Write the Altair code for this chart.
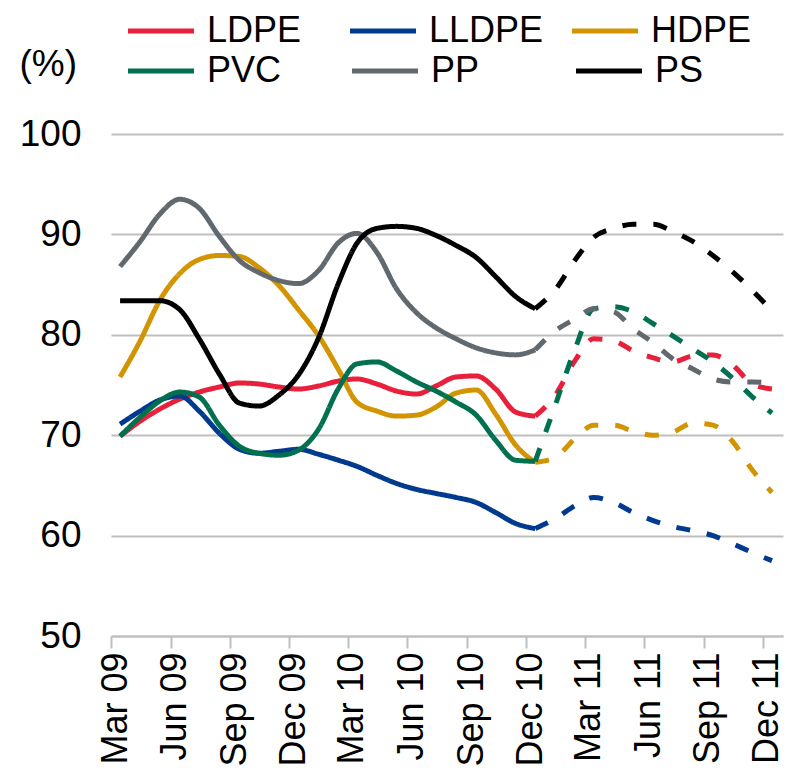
import altair as alt
import pandas as pd

# ---- data -------------------------------------------------------------
actual_dates = [
    "2009-03-15", "2009-04-15", "2009-05-15", "2009-06-15", "2009-07-15", "2009-08-15",
    "2009-09-15", "2009-10-15", "2009-11-15", "2009-12-15", "2010-01-15", "2010-02-15",
    "2010-03-15", "2010-04-15", "2010-05-15", "2010-06-15", "2010-07-15", "2010-08-15",
    "2010-09-15", "2010-10-15", "2010-11-15", "2010-12-15",
]
forecast_dates = [
    "2010-12-15", "2011-01-15", "2011-02-15", "2011-03-15", "2011-04-15", "2011-05-15",
    "2011-06-15", "2011-07-15", "2011-08-15", "2011-09-15", "2011-10-15", "2011-11-15",
    "2011-12-15",
]

ldpe_actual = [69.9, 71.4, 72.6, 73.6, 74.3, 74.8, 75.2, 75.1, 74.8, 74.6, 74.9, 75.4,
               75.6, 75.1, 74.4, 74.1, 74.9, 75.8, 75.9, 74.6, 72.3, 71.9]
ldpe_forecast = [74.0, 77.5, 79.6, 79.4, 78.4, 77.7, 77.3, 77.9, 78.0, 77.0, 75.1, 74.6]

lldpe_actual = [71.1, 72.4, 73.5, 73.9, 72.4, 70.2, 68.6, 68.2, 68.4, 68.6, 68.1, 67.5,
                66.9, 66.0, 65.2, 64.6, 64.2, 63.8, 63.3, 62.3, 61.2, 60.7]
lldpe_forecast = [61.7, 63.0, 63.8, 63.3, 62.3, 61.5, 60.9, 60.5, 60.0, 59.2, 58.3, 57.5]

hdpe_actual = [75.8, 79.4, 83.4, 86.1, 87.5, 87.9, 87.8, 86.7, 84.9, 82.5, 79.9, 76.5,
               73.3, 72.4, 71.9, 72.0, 72.8, 74.2, 74.5, 72.1, 69.0, 67.3]
hdpe_forecast = [67.8, 69.7, 71.0, 71.0, 70.4, 70.0, 70.3, 71.2, 71.0, 69.4, 66.5, 64.3]

pvc_actual = [69.9, 71.8, 73.4, 74.3, 73.8, 71.0, 68.9, 68.2, 68.0, 68.5, 70.6, 74.7,
              77.1, 77.3, 76.4, 75.3, 74.4, 73.3, 72.0, 69.5, 67.5, 67.4]
pvc_forecast = [73.0, 78.7, 82.6, 82.8, 82.3, 81.1, 79.9, 78.6, 77.3, 75.7, 73.8, 72.2]

pp_actual = [86.8, 89.3, 92.0, 93.5, 92.6, 89.8, 87.4, 86.2, 85.4, 85.1, 86.4, 89.2,
             90.1, 88.2, 84.6, 82.2, 80.7, 79.6, 78.7, 78.2, 78.0, 78.5]
pp_forecast = [80.4, 81.6, 82.6, 82.3, 80.6, 79.2, 77.6, 76.6, 75.6, 75.3, 75.3, 75.2]

ps_actual = [83.4, 83.4, 83.4, 82.5, 79.6, 76.1, 73.2, 72.9, 74.0, 76.0, 79.7, 85.2,
             89.1, 90.6, 90.8, 90.6, 89.9, 88.9, 87.7, 85.8, 83.8, 82.6]
ps_forecast = [84.5, 87.5, 89.7, 90.6, 91.0, 91.0, 90.3, 89.3, 87.9, 86.3, 84.4, 82.4]

row1_names = ["LDPE", "LLDPE", "HDPE"]
row2_names = ["PVC", "PP", "PS"]
row1_colors = ["#E8203B", "#003A8F", "#D29400"]
row2_colors = ["#00704F", "#61696F", "#000000"]

series_values = {
    "LDPE": (ldpe_actual, ldpe_forecast),
    "LLDPE": (lldpe_actual, lldpe_forecast),
    "HDPE": (hdpe_actual, hdpe_forecast),
    "PVC": (pvc_actual, pvc_forecast),
    "PP": (pp_actual, pp_forecast),
    "PS": (ps_actual, ps_forecast),
}

tick_dates = ["2009-03-01", "2009-06-01", "2009-09-01", "2009-12-01",
              "2010-03-01", "2010-06-01", "2010-09-01", "2010-12-01",
              "2011-03-01", "2011-06-01", "2011-09-01", "2011-12-01"]
y_ticks = [50, 60, 70, 80, 90, 100]


def build_frame(names):
    rows = []
    for name in names:
        act, fc = series_values[name]
        for d, v in zip(actual_dates, act):
            rows.append({"date": d, "series": name, "value": v, "period": "actual"})
        fc_full = [act[-1]] + fc
        for d, v in zip(forecast_dates, fc_full):
            rows.append({"date": d, "series": name, "value": v, "period": "forecast"})
    return pd.DataFrame(rows)


FONT = "Liberation Sans"


def dt(s):
    y, m, d = (int(p) for p in s.split("-"))
    return alt.DateTime(year=y, month=m, date=d, utc=True)


x_axis = alt.Axis(
    values=[dt(s) for s in tick_dates],
    labelExpr="utcFormat(datum.value, '%b %y')",
    labelAngle=270, labelAlign="right", labelBaseline="middle",
    labelFont=FONT, labelFontSize=36, labelColor="black",
    labelPadding=4, labelOffset=4, labelFlush=False, labelOverlap=False,
    labelBound=False,
    grid=False, domainColor="#BFBFBF", domainWidth=2,
    tickColor="#BFBFBF", tickWidth=2, tickSize=12, title=None,
)
y_axis = alt.Axis(
    values=y_ticks, grid=True, gridColor="#BFBFBF", gridWidth=2,
    domain=False, ticks=False, tickSize=0, labelPadding=30,
    labelFont=FONT, labelFontSize=37, labelColor="black",
    title="(%)", titleAngle=0, titleAlign="left", titleBaseline="alphabetic",
    titleX=-92, titleY=-59, titleFont=FONT, titleFontSize=37,
    titleFontWeight="normal", titleColor="black",
)
x_scale = alt.Scale(type="utc", domain=[dt("2009-03-01"), dt("2012-01-01")])
y_scale = alt.Scale(domain=[50, 100], nice=False, zero=False)


def layer(names, colors, legend_y, col_pad):
    return alt.Chart(build_frame(names)).mark_line(
        strokeWidth=5, interpolate="monotone", strokeJoin="round"
    ).encode(
        x=alt.X("date:T", scale=x_scale, axis=x_axis),
        y=alt.Y("value:Q", scale=y_scale, axis=y_axis),
        color=alt.Color(
            "series:N",
            scale=alt.Scale(domain=names, range=colors),
            legend=alt.Legend(
                orient="none", legendX=32, legendY=legend_y,
                direction="horizontal", columns=3, gridAlign="all",
                columnPadding=col_pad, padding=0, offset=0, title=None,
                symbolType="M-3,0H3", symbolSize=484, symbolStrokeWidth=5,
                symbolOffset=0, labelOffset=28, labelLimit=0,
                labelFont=FONT, labelFontSize=36, labelColor="black",
            ),
        ),
        strokeDash=alt.StrokeDash(
            "period:N",
            scale=alt.Scale(domain=["actual", "forecast"], range=[[1, 0], [14, 17]]),
            legend=None,
        ),
        order=alt.Order("date:T"),
    )


chart = alt.layer(
    layer(row1_names, row1_colors, -121, 18),
    layer(row2_names, row2_colors, -81, 60),
).resolve_scale(color="independent").properties(
    width=672, height=502,
    autosize=alt.AutoSizeParams(type="none"),
    padding={"left": 103, "top": 126, "right": 3, "bottom": 133},
    background="white",
).configure_view(stroke=None)

chart.save("out.html", embed_options={"renderer": "svg", "actions": False})
